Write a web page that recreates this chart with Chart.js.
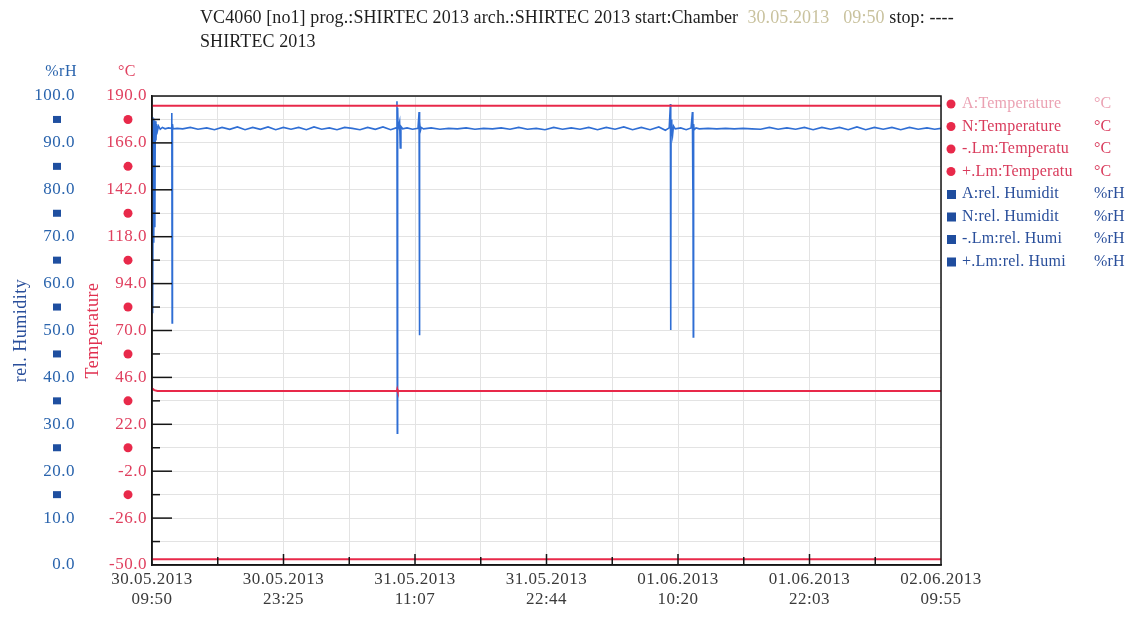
<!DOCTYPE html>
<html>
<head>
<meta charset="utf-8">
<script src="https://cdn.jsdelivr.net/npm/chart.js@4.4.0/dist/chart.umd.min.js"></script>
<style>
html,body{margin:0;padding:0;background:#fff;}
canvas{display:block;}
</style>
</head>
<body>
<canvas id="chamber" width="1128" height="617"></canvas>
<script>
// time axis: hours since 30.05.2013 09:50, run ends 02.06.2013 09:55
const xEnd = 72.08;
const xLabels = [
  ['30.05.2013', '09:50'], ['30.05.2013', '23:25'], ['31.05.2013', '11:07'],
  ['31.05.2013', '22:44'], ['01.06.2013', '10:20'], ['01.06.2013', '22:03'],
  ['02.06.2013', '09:55']
];

const humTicks = [0, 10, 20, 30, 40, 50, 60, 70, 80, 90, 100];
const tempTicks = [-50, -38, -26, -14, -2, 10, 22, 34, 46, 58, 70, 82, 94, 106, 118, 130, 142, 154, 166, 178, 190];

// A:rel. Humidity (%rH)
const humTimes = [
  0.00, 0.04, 0.08, 0.12, 0.16, 0.20, 0.26, 0.30, 0.36, 0.42, 0.50, 0.60, 0.75, 0.95, 1.20, 1.50,
  1.78, 1.81, 1.84, 1.87, 1.92, 2.3, 2.8, 3.5, 4.2, 5.0, 5.7, 6.4, 7.1, 7.8, 8.5, 9.2, 9.9,
  10.6, 11.3, 12.0, 12.7, 13.4, 14.1, 14.8, 15.5, 16.2, 16.9, 17.6, 18.3, 19.0, 19.7, 20.4,
  21.1, 21.8, 22.3, 22.38, 22.41, 22.44, 22.48, 22.62, 22.68, 22.74, 22.9, 23.3, 23.8, 24.3,
  24.40, 24.43, 24.46, 24.52, 24.6, 24.8, 25.5, 26.3, 27.1, 27.9, 28.7, 29.5, 30.3, 31.1,
  31.9, 32.7, 33.5, 34.3, 35.1, 35.9, 36.7, 37.5, 38.3, 39.1, 39.9, 40.7, 41.5, 42.3, 43.1,
  43.9, 44.7, 45.5, 46.3, 46.9, 47.25, 47.36, 47.39, 47.42, 47.48, 47.56, 47.64, 47.8, 48.3,
  48.8, 49.25, 49.37, 49.40, 49.42, 49.45, 49.48, 49.53, 49.7, 50.0, 50.8, 51.6, 52.4, 53.2,
  54.0, 54.8, 55.6, 56.4, 57.2, 58.0, 58.8, 59.6, 60.4, 61.2, 62.0, 62.8, 63.6, 64.4, 65.2,
  66.0, 66.8, 67.6, 68.4, 69.2, 70.0, 70.8, 71.5, 72.08
];
const humValues = [
  60.0, 95.5, 53.7, 95.2, 68.7, 94.8, 72.0, 94.6, 90.5, 94.0, 92.6, 93.6, 92.9, 93.3, 93.0, 93.2,
  93.1, 96.4, 51.6, 94.0, 93.0, 93.1, 93.0, 93.3, 92.9, 93.2, 92.8, 93.3, 92.9, 93.4, 92.8, 93.3, 92.9,
  93.4, 92.8, 93.3, 92.9, 93.3, 92.8, 93.4, 92.9, 93.2, 92.8, 93.3, 93.1, 92.8, 93.3, 92.9,
  93.4, 92.8, 93.2, 98.9, 28.1, 97.5, 93.0, 94.5, 88.9, 93.5, 93.0, 93.2, 92.9, 93.1,
  96.6, 49.0, 94.5, 92.6, 93.3, 93.0, 93.2, 92.9, 93.1, 93.0, 93.2, 92.9, 93.1, 93.0,
  93.2, 92.9, 93.3, 92.9, 93.1, 92.8, 93.3, 92.9, 93.2, 92.9, 93.3, 92.8, 93.3, 92.9, 93.4,
  92.8, 93.3, 92.8, 93.4, 92.7, 93.2, 98.3, 50.1, 95.0, 93.5, 91.7, 93.6, 93.0, 93.2,
  92.8, 93.2, 96.6, 80.0, 95.5, 48.6, 94.0, 92.8, 93.2, 93.0, 93.1, 93.0, 93.1, 93.0,
  93.1, 93.0, 92.9, 93.3, 92.9, 93.2, 92.9, 93.3, 92.8, 93.3, 92.9, 93.3, 92.8, 93.4, 92.8,
  93.3, 92.9, 93.3, 92.8, 93.3, 92.9, 93.2, 92.9, 93.1
];

// A:Temperature (°C)
const tempTimes = [0, 0.2, 0.5, 22.38, 22.41, 22.45, 72.08];
const tempValues = [40.5, 39.5, 39.0, 39.0, 39.8, 39.0, 39.0];

// limit lines (°C)
const limTimes = [0, 72.08];
const upperLimit = [185, 185];
const lowerLimit = [-47, -47];

const legendUnits = ['°C', '°C', '°C', '°C', '%rH', '%rH', '%rH', '%rH'];
const legendTextColors = ['#eba2b3', '#d93b5c', '#d93b5c', '#d93b5c', '#2a4f9b', '#2a4f9b', '#2a4f9b', '#2a4f9b'];

const SERIF = '"Liberation Serif", "DejaVu Serif", serif';
const RED = '#e8294a';
const BLUE = '#2f6ed4';

function pts(xs, ys) {
  return xs.map((x, i) => ({x: x, y: ys[i]}));
}

// scanned printout text runs a bit wide
const spacing = {
  id: 'spacing',
  beforeLayout(chart) { chart.ctx.letterSpacing = '0.5px'; },
  beforeDraw(chart) { chart.ctx.letterSpacing = '0.5px'; }
};

const decor = {
  id: 'decor',
  afterDraw(chart) {
    const {ctx, chartArea: a, scales} = chart;
    const yT = scales.yT, yH = scales.yH, x = scales.x;
    ctx.save();

    // frame
    ctx.strokeStyle = '#151515';
    ctx.lineWidth = 1.5;
    ctx.strokeRect(a.left, a.top, a.width, a.height);

    // inward ticks, left side
    tempTicks.forEach(v => {
      if (v === tempTicks[0] || v === tempTicks[tempTicks.length - 1]) return;
      const y = yT.getPixelForValue(v);
      const len = (v - tempTicks[0]) % 24 === 0 ? 20 : 8;
      ctx.beginPath();
      ctx.moveTo(a.left, y);
      ctx.lineTo(a.left + len, y);
      ctx.stroke();
    });
    // inward ticks, bottom
    x.ticks.forEach((t, i) => {
      if (i === 0 || i === x.ticks.length - 1) return;
      const px = x.getPixelForValue(t.value);
      const len = i % 2 === 0 ? 11 : 8;
      ctx.beginPath();
      ctx.moveTo(px, a.bottom);
      ctx.lineTo(px, a.bottom - len);
      ctx.stroke();
    });

    // half-step markers beside the axis labels
    ctx.fillStyle = '#1f4fa0';
    for (let i = 1; i < humTicks.length - 1; i++) {
      const y = yH.getPixelForValue((humTicks[i] + humTicks[i + 1]) / 2);
      ctx.fillRect(53, y - 3.5, 8, 7);
    }
    const tLab = tempTicks.filter(v => (v - tempTicks[0]) % 24 === 0);
    ctx.fillStyle = RED;
    for (let i = 1; i < tLab.length - 1; i++) {
      const y = yT.getPixelForValue((tLab[i] + tLab[i + 1]) / 2);
      ctx.beginPath();
      ctx.arc(128, y, 4.5, 0, Math.PI * 2);
      ctx.fill();
    }

    // unit headers
    ctx.letterSpacing = '0.5px';
    ctx.font = '16px ' + SERIF;
    ctx.textBaseline = 'middle';
    ctx.textAlign = 'right';
    ctx.fillStyle = '#2a64ad';
    ctx.fillText('%rH', 77, 72);
    ctx.textAlign = 'center';
    ctx.fillStyle = '#e0405f';
    ctx.fillText('°C', 127, 72);

    // heading
    ctx.textAlign = 'left';
    ctx.font = '18px ' + SERIF;
    ctx.letterSpacing = '0.1px';
    let tx = 200;
    const seg = [
      ['VC4060 [no1] prog.:SHIRTEC 2013 arch.:SHIRTEC 2013 start:Chamber  ', '#1e1e1e'],
      ['30.05.2013   09:50', '#c9c29e'],
      [' stop: ----', '#1e1e1e']
    ];
    seg.forEach(s => {
      ctx.fillStyle = s[1];
      ctx.fillText(s[0], tx, 18);
      tx += ctx.measureText(s[0]).width;
    });
    ctx.fillStyle = '#1e1e1e';
    ctx.fillText('SHIRTEC 2013', 200, 42);

    // legend
    ctx.font = '16px ' + SERIF;
    ctx.letterSpacing = '0.2px';
    chart.data.datasets.forEach((ds, i) => {
      const y = 104 + i * 22.5;
      if (ds.yAxisID === 'yT') {
        ctx.fillStyle = RED;
        ctx.beginPath();
        ctx.arc(951, y, 4.5, 0, Math.PI * 2);
        ctx.fill();
      } else {
        ctx.fillStyle = '#1f4d9e';
        ctx.fillRect(947, y - 4, 9, 9);
      }
      ctx.fillStyle = legendTextColors[i];
      ctx.textAlign = 'left';
      ctx.fillText(ds.label, 962, y);
      ctx.fillText(legendUnits[i], 1094, y);
    });
    ctx.restore();
  }
};

new Chart(document.getElementById('chamber'), {
  type: 'line',
  data: {
    datasets: [
      {label: 'A:Temperature', data: pts(tempTimes, tempValues), yAxisID: 'yT', borderColor: RED, borderWidth: 2},
      {label: 'N:Temperature', data: [], yAxisID: 'yT', borderColor: RED},
      {label: '-.Lm:Temperatu', data: pts(limTimes, lowerLimit), yAxisID: 'yT', borderColor: RED, borderWidth: 2},
      {label: '+.Lm:Temperatu', data: pts(limTimes, upperLimit), yAxisID: 'yT', borderColor: RED, borderWidth: 2},
      {label: 'A:rel. Humidit', data: pts(humTimes, humValues), yAxisID: 'yH', borderColor: BLUE, borderWidth: 1.6},
      {label: 'N:rel. Humidit', data: [], yAxisID: 'yH', borderColor: BLUE},
      {label: '-.Lm:rel. Humi', data: [], yAxisID: 'yH', borderColor: BLUE},
      {label: '+.Lm:rel. Humi', data: [], yAxisID: 'yH', borderColor: BLUE}
    ]
  },
  options: {
    responsive: false,
    animation: false,
    devicePixelRatio: 1,
    elements: {point: {radius: 0}, line: {tension: 0}},
    layout: {padding: {top: 96, right: 187, bottom: 0, left: 0}},
    plugins: {legend: {display: false}, tooltip: {enabled: false}},
    scales: {
      x: {
        type: 'linear', min: 0, max: xEnd,
        afterBuildTicks: s => { s.ticks = xLabels.concat(xLabels.slice(1)).map((_, i) => ({value: i * xEnd / 12})); },
        afterFit: s => { s.height = 52; },
        ticks: {
          autoSkip: false, maxRotation: 0, padding: 5, color: '#3a3a3a',
          font: {family: SERIF, size: 17, lineHeight: 1.15},
          callback: (v, i) => i % 2 === 0 ? xLabels[i / 2] : ''
        },
        grid: {color: '#e3e3e3', drawTicks: false},
        border: {color: '#151515', width: 1.5}
      },
      yT: {
        position: 'left', weight: 0, min: -50, max: 190,
        afterBuildTicks: s => { s.ticks = tempTicks.map(v => ({value: v})); },
        afterFit: s => { s.width = 68; },
        ticks: {
          autoSkip: false, padding: 5, color: '#e0405f',
          font: {family: SERIF, size: 17},
          callback: v => (v - tempTicks[0]) % 24 === 0 ? v.toFixed(1) : ''
        },
        grid: {color: '#e3e3e3', drawTicks: false},
        border: {color: '#151515', width: 1.5},
        title: {display: true, text: 'Temperature', color: '#e0304f', font: {family: SERIF, size: 18, lineHeight: 1}, padding: 0}
      },
      yH: {
        position: 'left', weight: 1, min: 0, max: 100,
        afterBuildTicks: s => { s.ticks = humTicks.map(v => ({value: v})); },
        afterFit: s => { s.width = 84; },
        ticks: {
          autoSkip: false, padding: 9, color: '#2a64ad',
          font: {family: SERIF, size: 17},
          callback: v => v.toFixed(1)
        },
        grid: {display: false, drawTicks: false},
        border: {display: false},
        title: {display: true, text: 'rel. Humidity', color: '#2a4f9b', font: {family: SERIF, size: 18, lineHeight: 1}, padding: {top: 12, bottom: 0}}
      }
    }
  },
  plugins: [spacing, decor]
});
</script>
</body>
</html>
